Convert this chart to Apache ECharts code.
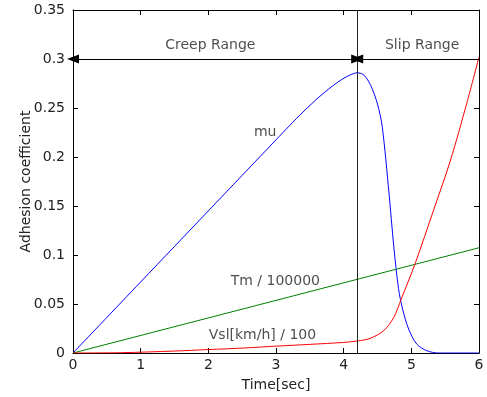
<!DOCTYPE html>
<html><head><meta charset="utf-8">
<script src="https://cdn.jsdelivr.net/npm/echarts@6/dist/echarts.min.js"></script>
<style>html,body{margin:0;padding:0;background:#fff}#c{width:487px;height:397px}</style>
</head><body><div id="c"></div>
<script>
// Time points and values
var muTime = [0, 1, 2, 3, 3.2, 3.4, 3.65, 3.9, 4.05, 4.15, 4.2, 4.3, 4.4, 4.5, 4.57, 4.67, 4.74, 4.81, 4.87, 4.96, 5.08, 5.23, 5.4, 6];
var muValues = [0, 0.0725, 0.145, 0.2175, 0.232, 0.246, 0.262, 0.2758, 0.2822, 0.2852, 0.286, 0.2835, 0.273, 0.254, 0.231, 0.163, 0.109, 0.066, 0.045, 0.0244, 0.0091, 0.0023, 0, 0];
var tmTime = [0, 6];
var tmValues = [0, 0.1074];
var vslTime = [0, 0.7, 1.5, 2, 2.5, 3, 3.5, 4, 4.2, 4.39, 4.59, 4.74, 4.85, 5.06, 5.33, 5.58, 5.82, 6];
var vslValues = [0, 0.0003, 0.002, 0.0035, 0.005, 0.007, 0.0088, 0.0108, 0.0122, 0.0149, 0.0227, 0.0362, 0.0549, 0.092, 0.146, 0.197, 0.255, 0.302];
var xTicks = [0, 1, 2, 3, 4, 5, 6];
var yTicks = [0, 0.05, 0.1, 0.15, 0.2, 0.25, 0.3, 0.35];
var boundaryTime = 4.2;
var rangeLevel = 0.3;
var labelTexts = ['Creep Range', 'Slip Range', 'mu', 'Tm / 100000', 'Vsl[km/h] / 100'];
var labelX = [2.03, 5.16, 2.84, 2.99, 2.8];
var labelY = [0.314, 0.314, 0.2256, 0.073, 0.0183];

function pairs(xs, ys) { return xs.map(function (x, i) { return [x, ys[i]]; }); }

var FONT = 'DejaVu Sans';
var TXT = '#222';
var axisCommon = {
  type: 'value',
  axisLine: { show: true, onZero: false, lineStyle: { color: '#000', width: 1 } },
  axisTick: { show: true, inside: true, length: 5, lineStyle: { color: '#000' } },
  splitLine: { show: false },
  axisLabel: { fontFamily: FONT, fontSize: 14, color: TXT }
};
function ax(extra) { return Object.assign(JSON.parse(JSON.stringify(axisCommon)), extra); }

var chart = echarts.init(document.getElementById('c'), null, { renderer: 'canvas' });
chart.setOption({
  animation: false,
  grid: { left: 73, right: 8, top: 10, bottom: 43 },
  xAxis: [
    ax({ min: xTicks[0], max: xTicks[xTicks.length - 1], interval: 1, position: 'bottom',
      name: 'Time[sec]', nameLocation: 'middle', nameGap: 25, nameMoveOverlap: false,
      nameTextStyle: { fontFamily: FONT, fontSize: 14, color: TXT },
      axisLabel: { fontFamily: FONT, fontSize: 14, color: TXT, margin: 5 } }),
    ax({ min: xTicks[0], max: xTicks[xTicks.length - 1], interval: 1, position: 'top',
      axisLabel: { show: false } })
  ],
  yAxis: [
    ax({ min: yTicks[0], max: yTicks[yTicks.length - 1], interval: 0.05, position: 'left',
      name: 'Adhesion coefficient', nameLocation: 'middle', nameGap: 40, nameMoveOverlap: false,
      nameTextStyle: { fontFamily: FONT, fontSize: 14, color: TXT },
      axisLabel: { fontFamily: FONT, fontSize: 14, color: TXT, margin: 8 } }),
    ax({ min: yTicks[0], max: yTicks[yTicks.length - 1], interval: 0.05, position: 'right',
      axisLabel: { show: false } })
  ],
  series: [
    { type: 'line', name: 'mu', data: pairs(muTime, muValues), smooth: 0.3, showSymbol: false,
      lineStyle: { color: '#0000ff', width: 1 }, itemStyle: { color: '#0000ff' }, z: 3 },
    { type: 'line', name: 'Tm', data: pairs(tmTime, tmValues), showSymbol: false,
      lineStyle: { color: '#008000', width: 1 }, itemStyle: { color: '#008000' }, z: 3 },
    { type: 'line', name: 'Vsl', data: pairs(vslTime, vslValues), smooth: 0.3, showSymbol: false,
      lineStyle: { color: '#ff0000', width: 1 }, itemStyle: { color: '#ff0000' }, z: 3,
      markLine: {
        silent: true, symbol: 'none', label: { show: false },
        lineStyle: { color: '#222', width: 1, type: 'solid' },
        data: [[{ coord: [boundaryTime, yTicks[0]] }, { coord: [boundaryTime, yTicks[yTicks.length - 1]] }]]
      } },
    { type: 'line', name: 'arrows', data: [], z: 4,
      markLine: {
        silent: true, symbol: ['triangle', 'triangle'], symbolSize: [9, 12], label: { show: false },
        lineStyle: { color: '#000', width: 1, type: 'solid' }, itemStyle: { color: '#000' },
        data: [
          [{ coord: [xTicks[0], rangeLevel] }, { coord: [boundaryTime, rangeLevel] }],
          [{ coord: [boundaryTime, rangeLevel] }, { coord: [xTicks[xTicks.length - 1], rangeLevel], symbol: 'none' }]
        ]
      } },
    { type: 'scatter', name: 'labels', symbolSize: 0, z: 5,
      data: labelTexts.map(function (t, i) { return { value: [labelX[i], labelY[i]], name: t }; }),
      label: { show: true, position: 'inside', formatter: function (p) { return p.name; },
        fontFamily: FONT, fontSize: 14, color: TXT } }
  ]
});
</script></body></html>
